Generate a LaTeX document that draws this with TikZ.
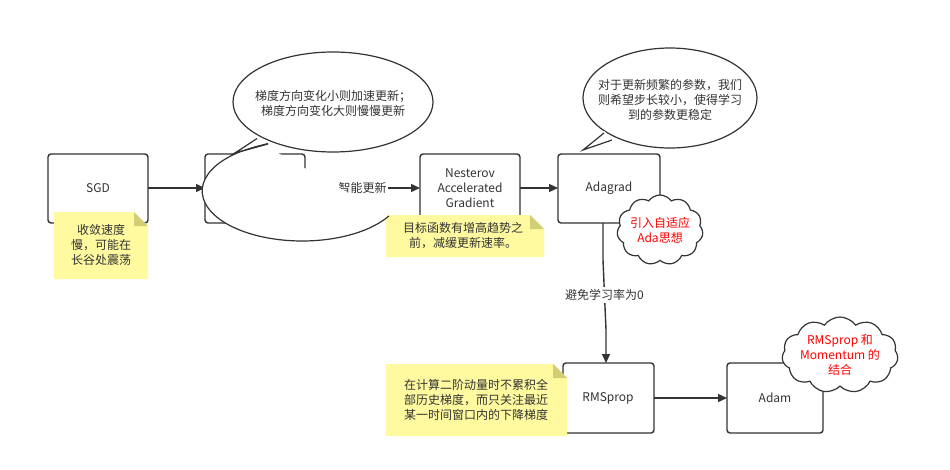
\documentclass[tikz,border=0pt]{standalone}
\usepackage{fontspec}
\setmainfont{Noto Sans CJK SC}
\usetikzlibrary{shapes.symbols,arrows.meta}
\definecolor{ln}{HTML}{333333}
\definecolor{notey}{HTML}{FFFAA0}
\definecolor{fold}{HTML}{D2CE78}
\tikzset{
  x=1pt,y=-1pt,
  box/.style={draw=ln,line width=1.4pt,rounded corners=3pt,fill=white,align=center,font=\fontsize{12}{15}\selectfont,text=ln},
  arr/.style={draw=ln,line width=1.4pt,-{Triangle[length=9pt,width=8pt]}},
  txt/.style={font=\fontsize{12}{15}\selectfont,text=ln,align=center},
  red/.style={font=\fontsize{12}{15}\selectfont,text=red,align=center},
  bub/.style={draw=ln,line width=1.2pt,fill=white},
  cloudy/.style={cloud,cloud puffs=11,cloud puff arc=110,aspect=1.2,draw=ln,line width=1.2pt,fill=white,inner sep=0pt}
}
\begin{document}
\begin{tikzpicture}
\useasboundingbox[fill=white] (0,0) rectangle (950,469);
% boxes
\draw[box] (48,154) rectangle (148,223);
\node[txt] (sgd) at (98,188) {SGD};
\draw[box] (205,154) rectangle (305,223);
\node[txt] (mom) at (255,188) {SGD with\\Momentum};
\draw[box] (420,154) rectangle (520,223);
\node[txt] (nag) at (470,188) {Nesterov\\Accelerated\\Gradient};
\draw[box] (558,154) rectangle (660,223);
\node[txt] (ada) at (609,188) {Adagrad};
\draw[box] (563,363) rectangle (654,433);
\node[txt] (rms) at (608,398) {RMSprop};
\draw[box] (727,363) rectangle (823,433);
\node[txt] (adam) at (775,398) {Adam};
\coordinate (sgdE) at (148,188); \coordinate (momW) at (205,188);
\coordinate (momE) at (305,188); \coordinate (nagW) at (420,188);
\coordinate (nagE) at (520,188); \coordinate (adaW) at (558,188);
\coordinate (adaS) at (603,223); \coordinate (rmsN) at (606,363);
\coordinate (rmsE) at (654,398); \coordinate (adamW) at (727,398);
% arrows
\draw[arr] (sgdE) -- (momW);
\draw[arr] (momE) -- node[fill=white,txt,inner sep=1pt] (l1) {智能更新} (nagW);
\draw[arr] (nagE) -- (adaW);
\draw[arr] (adaS) -- (adaS |- 0,260) -- node[fill=white,txt,inner sep=2pt] (l2) {避免学习率为0} (rmsN |- 0,330) -- (rmsN);
\draw[arr] (rmsE) -- (adamW);
% notes
\fill[notey] (54,212) -- (134,212) -- (148,226) -- (148,279) -- (54,279) -- cycle;
\fill[fold] (134,212) -- (148,226) -- (134,226) -- cycle;
\node[txt] (n1) at (101,245) {收敛速度\\慢，可能在\\长谷处震荡};
\fill[notey] (386,215) -- (530,215) -- (544,229) -- (544,257) -- (386,257) -- cycle;
\fill[fold] (530,215) -- (544,229) -- (530,229) -- cycle;
\node[txt] (n2) at (463,236) {目标函数有增高趋势之\\前，减缓更新速率。};
\fill[notey] (386,364) -- (553,364) -- (567,378) -- (567,436) -- (386,436) -- cycle;
\fill[fold] (553,364) -- (567,378) -- (553,378) -- cycle;
\node[txt] (n3) at (476,400) {在计算二阶动量时不累积全\\部历史梯度，而只关注最近\\某一时间窗口内的下降梯度};
% bubbles
\draw[bub] (257,141) -- (235,153) -- (268,144) arc[start angle=-110, end angle=-440+110+360-360+250-250, x radius=100, y radius=50] ;
\fill[white] (333,102) ellipse[x radius=99, y radius=49];
\draw[ln,line width=1.2pt] (333,102) ellipse[x radius=100, y radius=50];
\fill[white] (256,138) -- (235,153) -- (268,141) -- cycle;
\draw[ln,line width=1.2pt] (257,138.5) -- (235,153) -- (268,143.5);
\node[txt] (b1) at (333,103) {梯度方向变化小则加速更新；\\梯度方向变化大则慢慢更新};
\fill[white] (670,98) ellipse[x radius=87, y radius=50];
\draw[ln,line width=1.2pt] (670,98) ellipse[x radius=87, y radius=50];
\fill[white] (604,131) -- (583,150) -- (612,139) -- cycle;
\draw[ln,line width=1.2pt] (604,133) -- (583,150) -- (612,140);
\node[txt] (b2) at (670,100) {对于更新频繁的参数，我们\\则希望步长较小，使得学习\\到的参数更稳定};
% clouds
\node[cloudy,minimum width=86pt,minimum height=70pt] (c1) at (660,230) {};
\node[red] at (c1) {引入自适应\\Ada思想};
\node[cloudy,minimum width=116pt,minimum height=76pt] (c2) at (840,355) {};
\node[red] at (c2) {RMSprop 和\\Momentum 的\\结合};
\end{tikzpicture}
\end{document}
